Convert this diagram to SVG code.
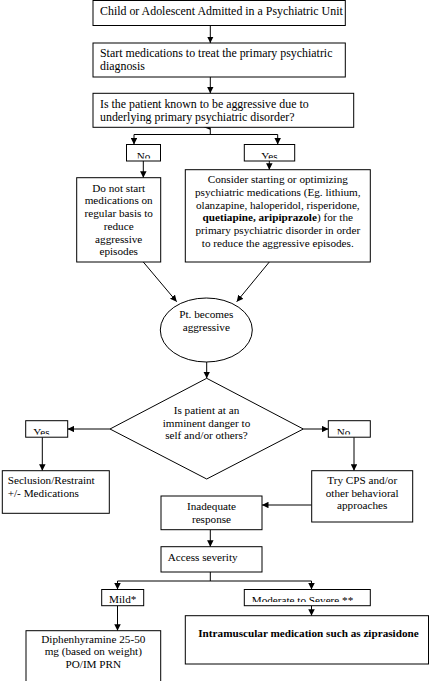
<svg xmlns="http://www.w3.org/2000/svg" width="430" height="681" viewBox="0 0 430 681">
<style>
.b{fill:#fff;stroke:#000;stroke-width:1}
.t{font-family:"Liberation Serif","Times New Roman",serif;font-size:11.2px;fill:#000}
.L{font-size:11.9px}
.c{text-anchor:middle}
.k{font-weight:bold}
.ln{fill:none;stroke:#000;stroke-width:1}
</style>
<defs>
<marker id="ah" viewBox="0 0 10 10" refX="10" refY="5" markerWidth="6.5" markerHeight="6.5" markerUnits="userSpaceOnUse" orient="auto">
<path d="M0,0 L10,5 L0,10 z" fill="#000"/>
</marker>
<clipPath id="cNo1"><rect x="126.5" y="144.5" width="34" height="14"/></clipPath>
<clipPath id="cYes1"><rect x="244.3" y="144.5" width="50.4" height="14"/></clipPath>
<clipPath id="cYes2"><rect x="25.7" y="420.7" width="42" height="13.8"/></clipPath>
<clipPath id="cNo2"><rect x="328.3" y="420.7" width="42" height="13.8"/></clipPath>
<clipPath id="cMod"><rect x="244.3" y="589.5" width="126" height="12.5"/></clipPath>
</defs>
<rect width="430" height="681" fill="#fff"/>

<g id="connectors">
<line class="ln" x1="210.3" y1="25.5" x2="210.3" y2="43" marker-end="url(#ah)"/>
<line class="ln" x1="210.3" y1="77" x2="210.3" y2="93.3" marker-end="url(#ah)"/>
<path class="ln" d="M210.3,127.5 V134.5 M134,134.5 H277.7"/>
<polygon points="203.5,127 210,124.3 210,129.7" fill="#000"/>
<line class="ln" x1="134" y1="134.5" x2="134" y2="144.5" marker-end="url(#ah)"/>
<line class="ln" x1="277.7" y1="134.5" x2="277.7" y2="144.5" marker-end="url(#ah)"/>
<line class="ln" x1="143.3" y1="161" x2="143.3" y2="177.7" marker-end="url(#ah)"/>
<line class="ln" x1="269.3" y1="161" x2="269.3" y2="169.7" marker-end="url(#ah)"/>
<line class="ln" x1="143.3" y1="262" x2="176.7" y2="301.7" marker-end="url(#ah)"/>
<line class="ln" x1="269.3" y1="262" x2="236.7" y2="301.7" marker-end="url(#ah)"/>
<line class="ln" x1="206.7" y1="362" x2="206.7" y2="378.3" marker-end="url(#ah)"/>
<line class="ln" x1="110" y1="429" x2="67.7" y2="429" marker-end="url(#ah)"/>
<line class="ln" x1="303.3" y1="429" x2="328.3" y2="429" marker-end="url(#ah)"/>
<line class="ln" x1="42.3" y1="437.2" x2="42.3" y2="470.7" marker-end="url(#ah)"/>
<line class="ln" x1="354" y1="437.2" x2="354" y2="470.7" marker-end="url(#ah)"/>
<line class="ln" x1="311.7" y1="505" x2="262" y2="505" marker-end="url(#ah)"/>
<line class="ln" x1="210.3" y1="529.7" x2="210.3" y2="546.7" marker-end="url(#ah)"/>
<path class="ln" d="M210.3,572 V581 M117.5,581 H311.5"/>
<line class="ln" x1="117.5" y1="581" x2="117.5" y2="589.5" marker-end="url(#ah)"/>
<line class="ln" x1="311.5" y1="581" x2="311.5" y2="589.5" marker-end="url(#ah)"/>
<line class="ln" x1="117.5" y1="605.7" x2="117.5" y2="630.7" marker-end="url(#ah)"/>
<line class="ln" x1="311.5" y1="605.7" x2="311.5" y2="615.7" marker-end="url(#ah)"/>
</g>

<g id="n-admit">
<rect class="b" x="93" y="0.5" width="252.3" height="25"/>
<text class="t L" x="100" y="14.8">Child or Adolescent Admitted in a Psychiatric Unit</text>
</g>
<g id="n-start">
<rect class="b" x="93" y="43" width="252.3" height="34"/>
<text class="t L" x="100" y="57.3">Start medications to treat the primary psychiatric</text>
<text class="t L" x="100" y="70">diagnosis</text>
</g>
<g id="n-known">
<rect class="b" x="93" y="93.3" width="260.7" height="34"/>
<text class="t L" x="100" y="107.7">Is the patient known to be aggressive due to</text>
<text class="t L" x="100" y="120.5">underlying primary psychiatric disorder?</text>
</g>
<g id="n-no1">
<rect class="b" x="126.5" y="144.5" width="34" height="16.5"/>
<text class="t c" x="143.5" y="159.5" clip-path="url(#cNo1)">No</text>
</g>
<g id="n-yes1">
<rect class="b" x="244.3" y="144.5" width="50.4" height="16.5"/>
<text class="t c" x="269.5" y="159.5" clip-path="url(#cYes1)">Yes</text>
</g>
<g id="n-donot">
<rect class="b" x="76.7" y="177.7" width="84" height="84.3"/>
<text class="t c" x="118.7" y="191.7">Do not start</text>
<text class="t c" x="118.7" y="204.4">medications on</text>
<text class="t c" x="118.7" y="217.1">regular basis to</text>
<text class="t c" x="118.7" y="229.8">reduce</text>
<text class="t c" x="118.7" y="242.5">aggressive</text>
<text class="t c" x="118.7" y="255.2">episodes</text>
</g>
<g id="n-consider">
<rect class="b" x="185.3" y="169.7" width="185" height="92.3"/>
<text class="t c" x="277.8" y="183.3">Consider starting or optimizing</text>
<text class="t c" x="277.8" y="196">psychiatric medications (Eg. lithium,</text>
<text class="t c" x="277.8" y="208.7">olanzapine, haloperidol, risperidone,</text>
<text class="t c" x="277.8" y="221.4"><tspan class="k">quetiapine, aripiprazole</tspan>) for the</text>
<text class="t c" x="277.8" y="234.1">primary psychiatric disorder in order</text>
<text class="t c" x="277.8" y="246.8">to reduce the aggressive episodes.</text>
</g>
<g id="n-pt">
<ellipse class="b" cx="206.3" cy="330" rx="46" ry="32"/>
<text class="t c" x="206.3" y="318.3">Pt. becomes</text>
<text class="t c" x="206.3" y="331">aggressive</text>
</g>
<g id="n-danger">
<polygon class="b" points="206.7,378.3 303.3,429 206.7,479 110,429"/>
<text class="t c" x="206.5" y="414">Is patient at an</text>
<text class="t c" x="206.5" y="426.7">imminent danger to</text>
<text class="t c" x="206.5" y="439.4">self and/or others?</text>
</g>
<g id="n-yes2">
<rect class="b" x="25.7" y="420.7" width="42" height="16.5"/>
<text class="t" x="33.3" y="435.8" clip-path="url(#cYes2)">Yes</text>
</g>
<g id="n-no2">
<rect class="b" x="328.3" y="420.7" width="42" height="16.5"/>
<text class="t" x="336.7" y="435.8" clip-path="url(#cNo2)">No</text>
</g>
<g id="n-seclusion">
<rect class="b" x="2.3" y="470.7" width="107" height="42.6"/>
<text class="t" x="7.7" y="484">Seclusion/Restraint</text>
<text class="t" x="7.7" y="496.7">+/- Medications</text>
</g>
<g id="n-cps">
<rect class="b" x="311.7" y="470.7" width="101" height="51.3"/>
<text class="t c" x="362.2" y="484">Try CPS and/or</text>
<text class="t c" x="362.2" y="496.7">other behavioral</text>
<text class="t c" x="362.2" y="509.4">approaches</text>
</g>
<g id="n-inadequate">
<rect class="b" x="161" y="496" width="101" height="33.7"/>
<text class="t c" x="211.5" y="510">Inadequate</text>
<text class="t c" x="211.5" y="522.7">response</text>
</g>
<g id="n-access">
<rect class="b" x="161" y="546.7" width="101" height="25.3"/>
<text class="t" x="167.7" y="561">Access severity</text>
</g>
<g id="n-mild">
<rect class="b" x="101.7" y="589.5" width="42" height="16.2"/>
<text class="t c" x="122.7" y="603.3">Mild*</text>
</g>
<g id="n-moderate">
<rect class="b" x="244.3" y="589.5" width="126" height="16.2"/>
<text class="t" x="251.7" y="604" clip-path="url(#cMod)">Moderate to Severe **</text>
</g>
<g id="n-diphen">
<rect class="b" x="26" y="630.7" width="134.7" height="60"/>
<text class="t c" x="93.3" y="642.7">Diphenhyramine 25-50</text>
<text class="t c" x="93.3" y="655.2">mg (based on weight)</text>
<text class="t c" x="93.3" y="667.7">PO/IM PRN</text>
</g>
<g id="n-im">
<rect class="b" x="185.3" y="615.7" width="243.2" height="48.3"/>
<text class="t c k" x="308.5" y="637">Intramuscular medication such as ziprasidone</text>
</g>
</svg>
